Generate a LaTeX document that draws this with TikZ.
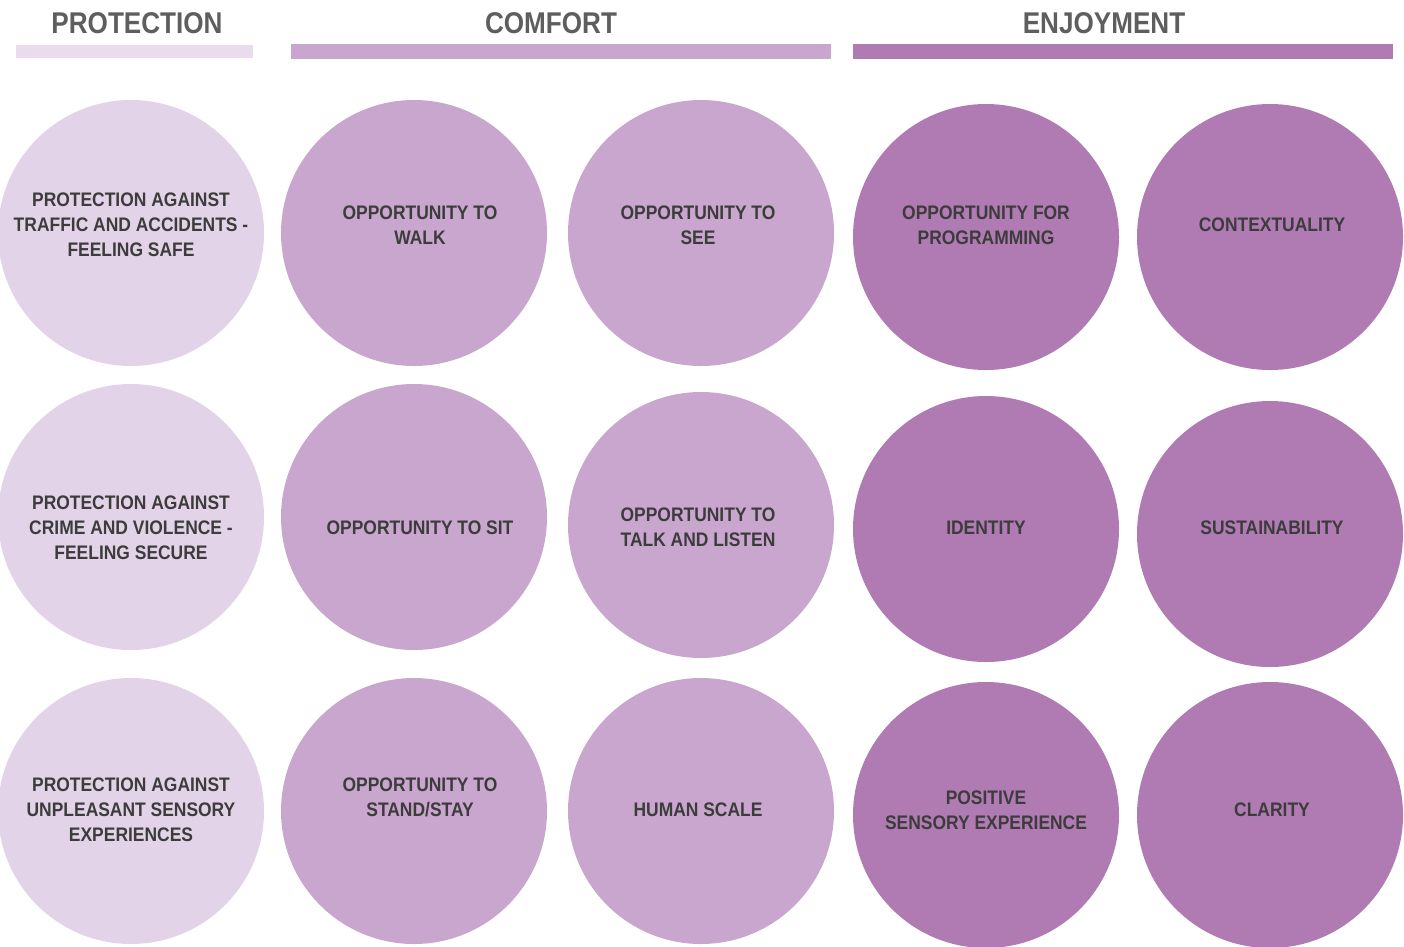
\documentclass[tikz,border=0pt]{standalone}
\usepackage{fontspec}
\setmainfont[FakeStretch=0.87]{Liberation Sans}
\newfontfamily\circfont[FakeStretch=0.89]{Liberation Sans}
\usetikzlibrary{positioning}
\definecolor{lightp}{HTML}{E3D3E8}
\definecolor{midp}{HTML}{C9A6CD}
\definecolor{darkp}{HTML}{B07BB3}
\definecolor{barp}{HTML}{E9DCEC}
\definecolor{headgray}{HTML}{5E5E5E}
\definecolor{txtgray}{HTML}{3C3C3C}

\begin{document}
\begin{tikzpicture}[
  x=1pt,y=-1pt,
  disc/.style={circle,fill=#1,draw=none,inner sep=0pt,minimum size=266pt},
  txt/.style={align=center,text=txtgray,font=\circfont\fontsize{19.6}{25}\selectfont\bfseries},
  head/.style={text=headgray,font=\fontsize{30}{30}\selectfont\bfseries,inner sep=0pt},
  bar/.style={fill=#1,draw=none},
  ]
  \path[use as bounding box,clip] (0,0) rectangle (1404,946);
  % headers
  \node[head](hProt) at (137,23){PROTECTION};
  \node[head](hComf) at (551,23){COMFORT};
  \node[head](hEnj) at (1104,23){ENJOYMENT};
  \path[bar=barp] (16,45) rectangle (253,58);
  \path[bar=midp] (291,44) rectangle (831,59);
  \path[bar=darkp] (853,44) rectangle (1393,59);
  % protection
  \node[disc=lightp](cTraffic) at (131,233){};
  \node[disc=lightp](cCrime) at (131,517){};
  \node[disc=lightp](cSensory) at (131,811){};
  \node[txt](tTraffic) at (131,225){PROTECTION AGAINST\\TRAFFIC AND ACCIDENTS -\\FEELING SAFE};
  \node[txt](tCrime) at (131,528){PROTECTION AGAINST\\CRIME AND VIOLENCE -\\FEELING SECURE};
  \node[txt](tSensory) at (131,810){PROTECTION AGAINST\\UNPLEASANT SENSORY\\EXPERIENCES};
  % comfort
  \node[disc=midp](cWalk) at (414,233){};
  \node[disc=midp](cSit) at (414,517){};
  \node[disc=midp](cStand) at (414,811){};
  \node[disc=midp](cSee) at (701,233){};
  \node[disc=midp](cTalk) at (701,525){};
  \node[disc=midp](cScale) at (701,811){};
  \node[txt](tWalk) at (420,225){OPPORTUNITY TO\\WALK};
  \node[txt](tSit) at (420,528){OPPORTUNITY TO SIT};
  \node[txt](tStand) at (420,797){OPPORTUNITY TO\\STAND/STAY};
  \node[txt](tSee) at (698,225){OPPORTUNITY TO\\SEE};
  \node[txt](tTalk) at (698,527){OPPORTUNITY TO\\TALK AND LISTEN};
  \node[txt](tScale) at (698,810){HUMAN SCALE};
  % enjoyment
  \node[disc=darkp](cProg) at (986,237){};
  \node[disc=darkp](cIdent) at (986,529){};
  \node[disc=darkp](cPos) at (986,815){};
  \node[disc=darkp](cContext) at (1270,237){};
  \node[disc=darkp](cSust) at (1270,534){};
  \node[disc=darkp](cClar) at (1270,815){};
  \node[txt](tProg) at (986,225){OPPORTUNITY FOR\\PROGRAMMING};
  \node[txt](tIdent) at (986,528){IDENTITY};
  \node[txt](tPos) at (986,810){POSITIVE\\SENSORY EXPERIENCE};
  \node[txt](tContext) at (1272,225){CONTEXTUALITY};
  \node[txt](tSust) at (1272,528){SUSTAINABILITY};
  \node[txt](tClar) at (1272,810){CLARITY};
\end{tikzpicture}
\end{document}
